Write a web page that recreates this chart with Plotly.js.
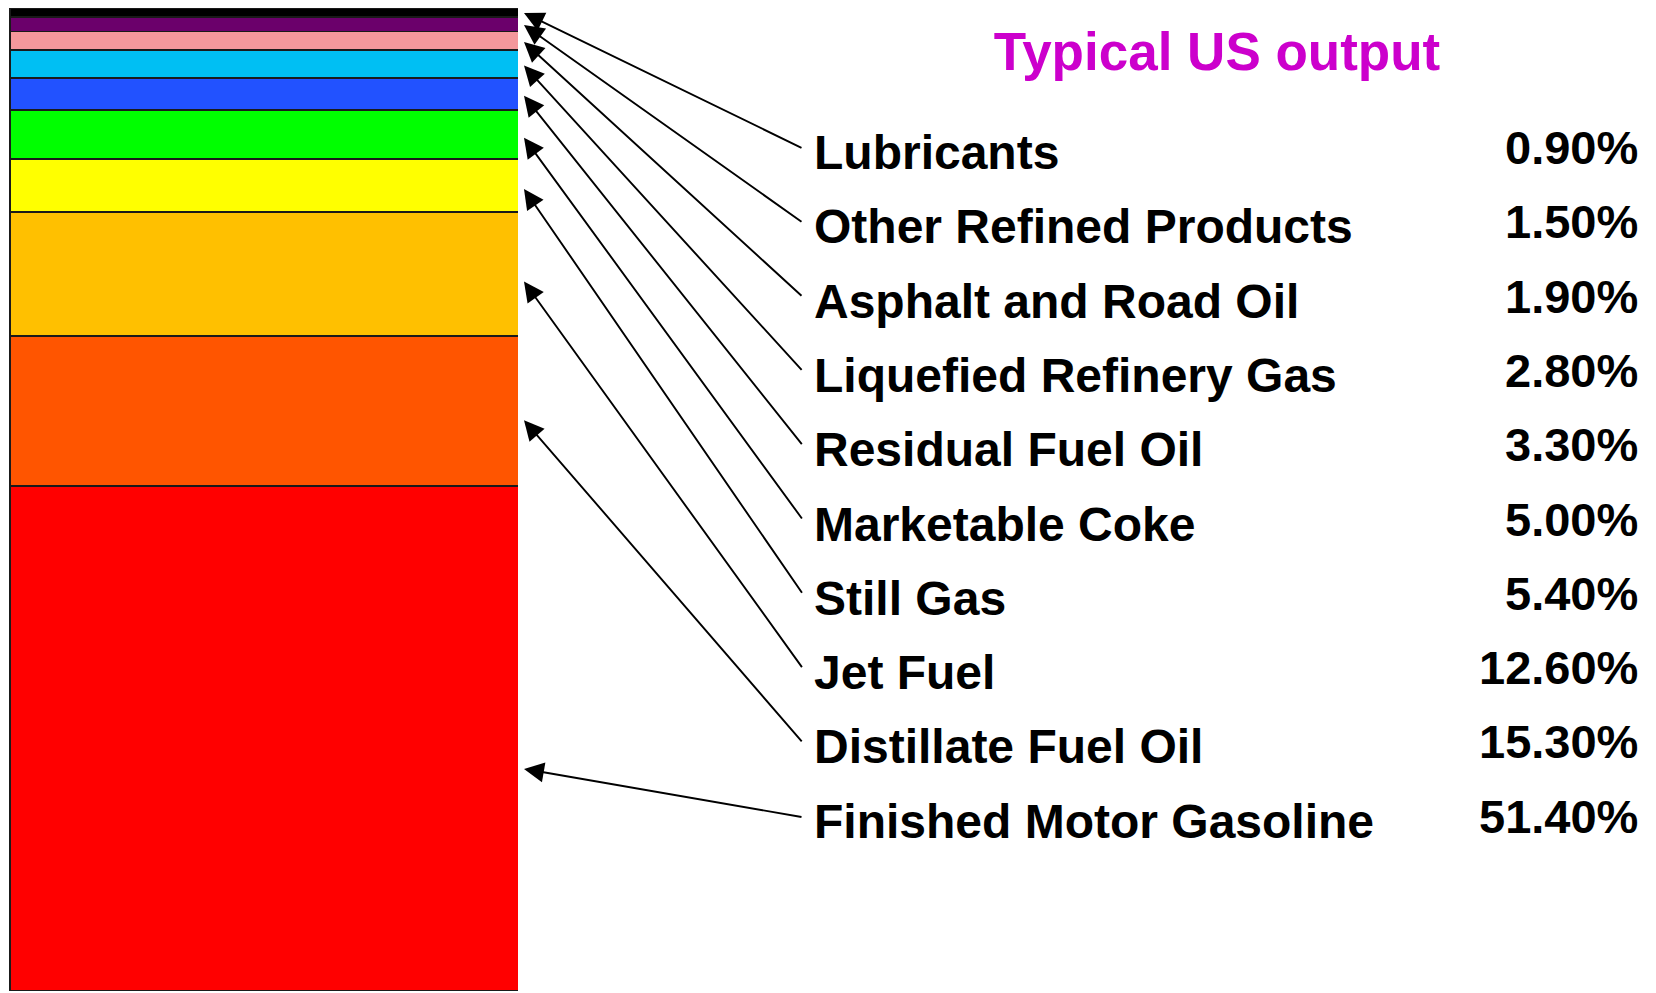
<!DOCTYPE html>
<html>
<head>
<meta charset="utf-8">
<script src="https://cdn.plot.ly/plotly-3.0.1.min.js"></script>
<style>html,body{margin:0;padding:0;background:#fff;}#chart{width:1656px;height:993px;}</style>
</head>
<body>
<div id="chart"></div>
<script>
// ---- data (top of the stack first, as listed on the right) ----
const categories = ['Lubricants', 'Other Refined Products', 'Asphalt and Road Oil',
  'Liquefied Refinery Gas', 'Residual Fuel Oil', 'Marketable Coke', 'Still Gas',
  'Jet Fuel', 'Distillate Fuel Oil', 'Finished Motor Gasoline'];
const shares = [0.9, 1.5, 1.9, 2.8, 3.3, 5.0, 5.4, 12.6, 15.3, 51.4];
const chartTitle = 'Typical US output';

// ---- styles ----
const colors = ['#000000', '#6B006B', '#F4989C', '#00BFF3', '#2252FF',
  '#00FF00', '#FFFF00', '#FFC000', '#FF5500', '#FF0000'];
const FONT = 'Liberation Sans, Arial, sans-serif';

// ---- geometry ----
const W = 1656, H = 993;
const plotTop = 8, plotBottom = 991;
const barLeft = 9, barRight = 518;
const labelX = 812, valueX = 1640, tailX = 803, headX = 524;
const rowY0 = 152.5, rowStep = 74.3, valueLift = 5, tailLift = 4;

const total = shares.reduce((a, b) => a + b, 0);

// stacked bar: bottom segment first
const traces = [];
for (let i = categories.length - 1; i >= 0; i--) {
  traces.push({
    type: 'bar', x: [0], y: [shares[i]], width: 1, name: categories[i],
    marker: {color: colors[i], line: {color: '#1a1a1a', width: 1.8}},
    hoverinfo: 'name+y', showlegend: false, xaxis: 'x', yaxis: 'y'
  });
}

// base of each segment (value below it in the stack)
const bases = shares.map((v, i) => shares.slice(i + 1).reduce((a, b) => a + b, 0));
const valToPx = v => plotTop + (1 - v / total) * (plotBottom - plotTop);

const annotations = [];
categories.forEach((name, i) => {
  const rowY = rowY0 + i * rowStep;
  annotations.push({
    xref: 'x2', yref: 'y2', x: labelX, y: rowY, xanchor: 'left', yanchor: 'middle',
    text: name, showarrow: false,
    font: {family: FONT, size: 48, color: '#000', weight: 700}
  });
  annotations.push({
    xref: 'x2', yref: 'y2', x: valueX, y: rowY - valueLift, xanchor: 'right', yanchor: 'middle',
    text: shares[i].toFixed(2) + '%', showarrow: false,
    font: {family: FONT, size: 47, color: '#000', weight: 700}
  });
  annotations.push({
    xref: 'x2', yref: 'y2', axref: 'x2', ayref: 'y2',
    x: headX, y: valToPx(bases[i] + 0.44 * shares[i]),
    ax: tailX, ay: rowY - tailLift,
    text: '', showarrow: true, arrowhead: 2, arrowsize: 2.1, arrowwidth: 1.9,
    arrowcolor: '#000', standoff: 0, startstandoff: 0
  });
});

const layout = {
  width: W, height: H,
  margin: {l: 0, r: 0, t: plotTop, b: H - plotBottom, pad: 0},
  paper_bgcolor: '#ffffff', plot_bgcolor: 'rgba(0,0,0,0)',
  barmode: 'stack', bargap: 0, showlegend: false, hovermode: false,
  title: {
    text: chartTitle, x: 1217 / W, xref: 'paper', xanchor: 'center',
    y: 1 - 51 / H, yref: 'container', yanchor: 'middle',
    font: {family: FONT, size: 53, color: '#CC00CC', weight: 700}
  },
  xaxis: {domain: [barLeft / W, barRight / W], range: [-0.502, 0.49], visible: false, fixedrange: true},
  yaxis: {domain: [0, 1], range: [0, total], visible: false, fixedrange: true},
  xaxis2: {domain: [0, 1], range: [0, W], anchor: 'y2', visible: false, fixedrange: true},
  yaxis2: {domain: [0, 1], range: [plotBottom, plotTop], anchor: 'x2', visible: false, fixedrange: true},
  annotations: annotations
};

Plotly.newPlot('chart', traces, layout, {displayModeBar: false, staticPlot: true});
</script>
</body>
</html>
